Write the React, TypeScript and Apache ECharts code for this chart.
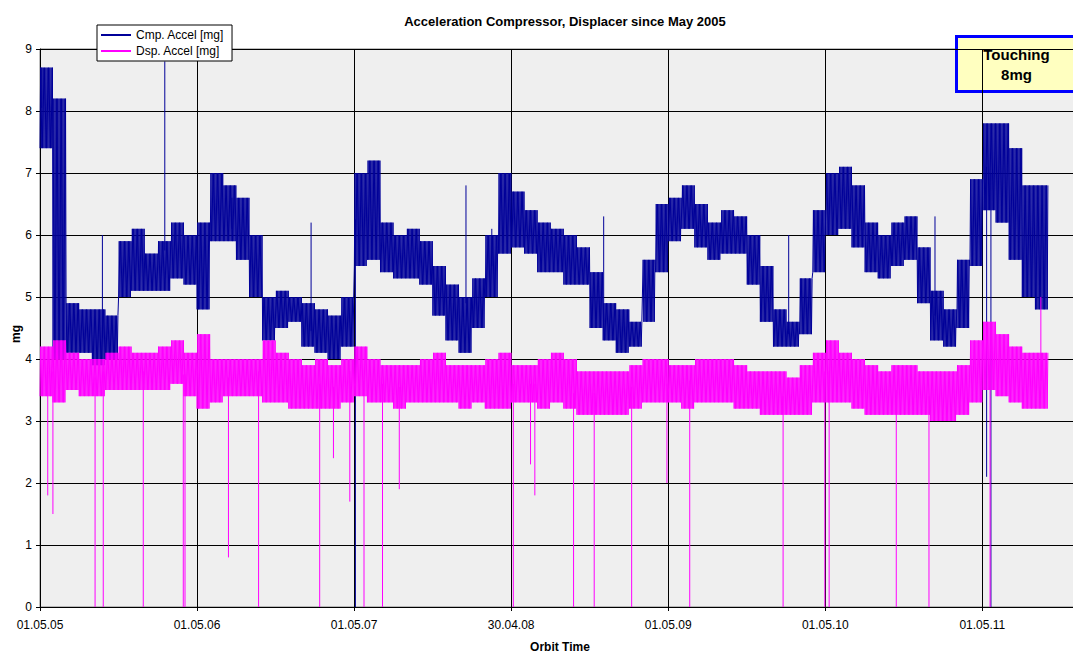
import React, { useEffect, useRef } from "react";
import * as echarts from "echarts";

const xLabels = ["01.05.05", "01.05.06", "01.05.07", "30.04.08", "01.05.09", "01.05.10", "01.05.11"];
const yTicks = [0, 1, 2, 3, 4, 5, 6, 7, 8, 9];
// monthly envelopes (month index from May 2005)
const cmpLo = [7.4,4.0,4.1,4.1,3.9,4.0,5.0,5.1,5.1,5.1,5.3,5.2,4.8,5.9,5.9,5.6,5.0,4.3,4.5,4.6,4.2,4.1,4.0,4.2,5.5,5.6,5.4,5.3,5.3,5.2,4.7,4.3,4.1,4.5,5.0,5.7,5.8,5.7,5.4,5.4,5.2,5.2,4.5,4.3,4.1,4.2,4.6,5.4,5.9,6.1,5.8,5.6,5.7,5.7,5.2,4.6,4.2,4.2,4.4,5.4,6.0,6.1,5.8,5.4,5.3,5.5,5.6,4.9,4.3,4.2,4.5,5.5,6.4,6.2,5.6,5.0,4.8];
const cmpHi = [8.7,8.2,4.9,4.8,4.8,4.7,5.9,6.1,5.7,5.9,6.2,6.0,6.2,7.0,6.8,6.6,6.0,5.0,5.1,5.0,4.9,4.8,4.7,5.0,7.0,7.2,6.2,6.0,6.1,5.9,5.5,5.2,5.0,5.3,6.0,7.0,6.7,6.4,6.2,6.1,6.0,5.8,5.4,4.9,4.8,4.6,5.6,6.5,6.6,6.8,6.5,6.2,6.4,6.3,6.0,5.5,4.8,4.6,5.3,6.4,7.0,7.1,6.8,6.2,6.0,6.2,6.3,5.8,5.1,4.8,5.6,6.9,7.8,7.8,7.4,6.8,6.8];
const dspLo = [3.4,3.3,3.5,3.4,3.4,3.5,3.5,3.5,3.5,3.5,3.6,3.4,3.2,3.3,3.4,3.4,3.4,3.3,3.3,3.2,3.2,3.2,3.2,3.3,3.4,3.3,3.3,3.2,3.3,3.3,3.3,3.3,3.2,3.3,3.2,3.2,3.3,3.3,3.2,3.3,3.2,3.1,3.1,3.1,3.1,3.2,3.3,3.3,3.3,3.2,3.3,3.3,3.3,3.2,3.2,3.1,3.1,3.1,3.1,3.3,3.3,3.3,3.2,3.1,3.1,3.1,3.1,3.1,3.0,3.0,3.1,3.3,3.5,3.4,3.3,3.2,3.2];
const dspHi = [4.2,4.3,4.1,4.0,4.0,4.1,4.2,4.1,4.1,4.2,4.3,4.1,4.4,4.0,4.0,4.0,4.0,4.3,4.1,4.0,3.9,4.0,3.9,4.0,4.2,4.0,3.9,3.9,3.9,4.0,4.1,3.9,3.9,3.9,4.0,4.1,3.9,3.9,4.0,4.1,4.0,3.8,3.8,3.8,3.8,3.9,4.0,4.0,3.9,3.9,4.0,4.0,4.0,3.9,3.8,3.8,3.8,3.7,3.9,4.1,4.3,4.1,4.0,3.9,3.8,3.9,3.9,3.8,3.8,3.8,3.9,4.3,4.6,4.4,4.2,4.1,4.1];
// spikes: [day, value]
const cmpSpikes = [[4, 8.7], [290, 8.8], [446, 6.6], [145, 6.0], [630, 6.2], [990, 6.8], [1050, 6.1], [1310, 6.3], [1740, 6.0], [2080, 6.3], [733, 0], [2210, 0], [2200, 2.1]];
const dspSpikes = [[128, 0], [147, 0], [240, 0], [333, 0], [337, 0], [438, 0.8], [508, 0], [650, 0], [682, 2.4], [720, 1.7], [753, 0], [796, 0], [835, 1.9], [1100, 0], [1140, 2.3], [1150, 1.8], [1240, 0], [1288, 0], [1375, 0], [1457, 2.0], [1510, 0], [1727, 0], [1824, 0], [1834, 0], [1990, 0], [2066, 0], [2208, 0], [2326, 5.0], [18, 1.8], [30, 1.5]];

function envelope(lo: number[], hi: number[]) {
  const out: number[][] = [];
  const n = 10;
  const step = 30.44 / n;
  lo.forEach((_, m) => {
    const d = m * 30.44;
    for (let k = 0; k < n; k++) {
      out.push([d + k * step, lo[m]]);
      out.push([d + k * step + step / 2, hi[m]]);
    }
  });
  return out;
}
function spikes(list: number[][], base: (d: number) => number) {
  const out: any[] = [];
  list.forEach(([d, v]) => {
    out.push([d, base(d)]);
    out.push([d, v]);
    out.push([d, "-"]);
  });
  return out;
}
const mid = (lo: number[], hi: number[]) => (d: number) => {
  const m = Math.min(lo.length - 1, Math.round(d / 30.44));
  return (lo[m] + hi[m]) / 2;
};

export default function App() {
  const ref = useRef<HTMLDivElement>(null);
  useEffect(() => {
    const chart = echarts.init(ref.current!, null, { renderer: "svg" });
    const font = "Arial, Liberation Sans, sans-serif";
    chart.setOption({
      animation: false,
      backgroundColor: "#fff",
      title: { text: "Acceleration Compressor, Displacer since May 2005", left: 552, textAlign: "center", top: 2, textStyle: { fontSize: 13, fontWeight: "bold", fontFamily: font, color: "#000" } },
      grid: { left: 32, right: 1, top: 41, bottom: 50, outerBoundsMode: "none", containLabel: false, backgroundColor: "#efefef", show: true, borderColor: "#808080", borderWidth: 1 },
      xAxis: {
        type: "value", min: 0, max: 2417, interval: 365,
        name: "Orbit Time", nameLocation: "middle", nameGap: 34,
        nameTextStyle: { fontWeight: "bold", fontSize: 12, fontFamily: font, color: "#000" },
        axisLabel: { formatter: (v: number) => xLabels[Math.round(v / 365)] ?? "", fontSize: 12, fontFamily: font, color: "#000", margin: 12, showMaxLabel: false },
        splitLine: { show: true, lineStyle: { color: "#000", width: 1 } },
        axisLine: { lineStyle: { color: "#000" } }, axisTick: { show: true, length: 4, lineStyle: { color: "#000" } },
      },
      yAxis: {
        type: "value", min: 0, max: 9, interval: 1,
        axisLabel: { fontSize: 12, fontFamily: font, color: "#000", margin: 8, formatter: (v: number) => (yTicks.includes(v) ? String(v) : "") },
        splitLine: { show: true, lineStyle: { color: "#000", width: 1 } },
        axisLine: { show: true, lineStyle: { color: "#000" } }, axisTick: { show: true, length: 4, lineStyle: { color: "#000" } },
      },
      legend: {
        left: 89, top: 17, orient: "vertical", itemGap: 4, itemWidth: 30, itemHeight: 2,
        backgroundColor: "#fff", borderColor: "#000", borderWidth: 1, padding: [4, 8, 4, 4],
        textStyle: { fontSize: 12, fontFamily: font, color: "#000" },
        data: [{ name: "Cmp. Accel [mg]", icon: "rect" }, { name: "Dsp. Accel [mg]", icon: "rect" }],
      },
      graphic: [
        { type: "text", x: 8, y: 326, rotation: Math.PI / 2, style: { text: "mg", align: "center", verticalAlign: "middle", font: "bold 12px Arial, Liberation Sans, sans-serif", fill: "#000" } },
        {
        type: "group", left: 947, top: 27, children: [
          { type: "rect", shape: { x: 0, y: 0, width: 120, height: 55 }, style: { fill: "#ffffc0", stroke: "#0000ff", lineWidth: 3 } },
          { type: "text", x: 60, y: 8, style: { text: "Touching\n8mg", align: "center", verticalAlign: "top", font: "bold 15px Arial, Liberation Sans, sans-serif", fill: "#000", lineHeight: 20 } },
        ]
      }],
      series: [
        { name: "Cmp. Accel [mg]", type: "line", data: envelope(cmpLo, cmpHi), showSymbol: false, lineStyle: { color: "#000099", width: 1 }, itemStyle: { color: "#000099" }, z: 3 },
        { name: "Cmp. Accel [mg]", type: "line", data: spikes(cmpSpikes, mid(cmpLo, cmpHi)), showSymbol: false, connectNulls: false, lineStyle: { color: "#000099", width: 1 }, z: 3 },
        { name: "Dsp. Accel [mg]", type: "line", data: envelope(dspLo, dspHi), showSymbol: false, lineStyle: { color: "#ff00ff", width: 1 }, itemStyle: { color: "#ff00ff" }, z: 4 },
        { name: "Dsp. Accel [mg]", type: "line", data: spikes(dspSpikes, mid(dspLo, dspHi)), showSymbol: false, connectNulls: false, lineStyle: { color: "#ff00ff", width: 1 }, z: 4 },
      ],
    });
    return () => chart.dispose();
  }, []);
  return <div ref={ref} style={{ width: 1073, height: 649 }} />;
}
